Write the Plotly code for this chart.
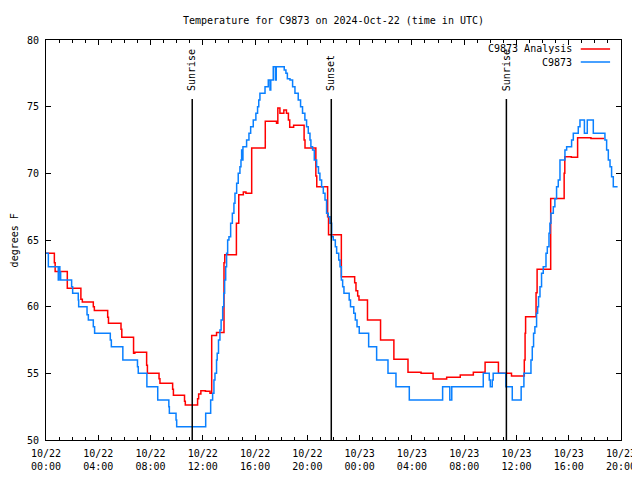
import plotly.graph_objects as go

# ---- data (hours since 2024-10-22 00:00 UTC, degrees F), step changes ----
analysis_hours = [0.0, 0.64, 0.7, 1.63, 2.67, 2.78, 3.62, 3.7, 4.72, 4.78, 5.74, 5.8,
                  6.7, 6.8, 7.7, 7.76, 8.65, 8.72, 9.69, 9.75, 10.6, 10.66, 11.6, 11.68,
                  11.85, 12.2, 12.55, 12.68, 13.05, 13.62, 13.68, 14.57, 14.75, 15.1, 15.3,
                  15.74, 16.78, 17.64, 17.74, 17.9, 18.2, 18.4, 18.55, 18.65, 18.95, 19.75,
                  19.82, 20.65, 20.72, 21.55, 21.62, 22.6, 23.62, 23.72, 23.85, 23.95, 24.6,
                  25.6, 26.62, 27.7, 28.7, 29.62, 30.66, 31.7, 32.7, 33.6, 34.62, 35.62,
                  36.6, 36.66, 36.7, 37.5, 37.58, 38.62, 39.65, 39.7, 40.2, 40.68, 41.7, 42.7]
analysis_temp = [64.0, 63.3, 62.63, 61.38, 60.55, 60.35, 60.0, 59.72, 59.2, 58.75, 58.3, 57.7,
                 56.5, 56.58, 55.6, 55.0, 54.6, 54.25, 53.8, 53.35, 52.9, 52.63, 53.1, 53.45,
                 53.7, 53.65, 53.5, 57.83, 58.07, 63.3, 63.9, 66.25, 68.4, 68.6, 68.5,
                 71.9, 73.9, 73.75, 74.9, 74.5, 74.75, 74.5, 74.0, 73.45, 73.6, 72.5,
                 71.9, 69.8, 69.0, 66.75, 65.4, 62.25, 61.8, 61.2, 60.8, 60.5, 59.0,
                 57.5, 56.05, 55.08, 55.0, 54.57, 54.7, 54.88, 55.08, 55.83, 55.0, 54.8,
                 56.0, 58.0, 59.25, 61.05, 62.8, 68.12, 70.0, 71.25, 71.2, 72.67, 72.62, 72.62]

obs_hours = [0.0, 0.18, 0.94, 1.0, 1.06, 1.12, 1.96, 2.04, 2.47, 2.5, 3.14, 3.24, 3.62, 3.72,
             4.92, 5.0, 5.88, 7.0, 7.06, 7.72, 8.55, 9.4, 9.44, 9.95, 10.0, 12.22, 12.6,
             12.75, 12.85, 12.93, 13.05, 13.1, 13.2, 13.31, 13.4, 13.52, 13.6, 13.67, 13.75,
             13.82, 13.9, 14.0, 14.13, 14.26, 14.38, 14.46, 14.59, 14.71, 14.84, 14.92,
             14.97, 15.02, 15.07, 15.22, 15.35, 15.53, 15.66, 15.86, 16.06, 16.19,
             16.28, 16.37, 16.76, 17.01, 17.14, 17.2, 17.39, 17.55, 17.62, 17.72,
             18.23, 18.36, 18.47, 18.67, 18.87, 19.05, 19.3, 19.48, 19.63, 19.81, 19.94,
             20.07, 20.2, 20.27, 20.4, 20.53, 20.71, 20.85, 20.96, 21.09, 21.22, 21.35,
             21.47, 21.6, 21.73, 21.86, 21.98, 22.14, 22.24, 22.4, 22.5, 22.6, 22.7, 22.8,
             23.2, 23.3, 23.55, 23.67, 23.8, 23.97, 24.69, 25.3, 26.17, 26.78, 27.8, 30.35,
             30.9, 31.05, 33.46, 33.92, 34.0, 34.15, 34.22, 35.19, 35.68, 36.36, 36.57,
             37.11, 37.21, 37.31, 37.41, 37.54, 37.62, 37.69, 37.8, 37.92, 38.05, 38.26,
             38.36, 38.49, 38.56, 38.64, 38.82, 38.94, 39.07, 39.2, 39.33, 39.71, 39.84,
             40.22, 40.35, 40.73, 40.86, 41.2, 41.42, 41.88, 42.77, 42.9, 43.03, 43.16,
             43.28, 43.41, 43.74]
obs_temp = [64, 63, 62, 63, 62.6, 62, 61.5, 61, 60.5, 60, 59.4, 59, 58.5, 58,
            57.5, 57, 56, 55.5, 55, 54, 53, 52.5, 52, 51.5, 51, 52, 53,
            53.5, 54.5, 55, 56, 56.5, 57.5, 58.25, 59, 60, 61, 62, 63,
            64, 65, 65.25, 66.25, 67, 67.75, 68.5, 69.25, 70, 70.5, 71,
            71.75, 71, 72, 72, 72.5, 73, 73.5, 74, 74.5, 75,
            75.5, 76, 76.5, 77, 76.25, 77, 78, 77, 78, 78,
            77.75, 77.5, 77.1, 77, 76.5, 76, 75.5, 75, 74.5, 74, 73.5,
            73, 72.5, 72, 71.75, 71, 70.5, 70, 69.5, 69, 68.5, 68,
            67, 66.75, 66.25, 65.25, 65, 64.5, 64, 63.5, 63, 62, 61.5, 61,
            60.5, 60, 59.5, 59, 58.5, 58, 57, 56, 55, 54, 53, 54,
            53, 54, 55, 54.5, 54, 54.5, 55, 54, 53, 54, 55,
            56, 57, 58, 58.5, 59.5, 60, 60.75, 61.5, 62.5, 63, 64,
            64.5, 65.5, 66.25, 67, 67.5, 68.1, 69, 69.5, 71, 71.75, 72,
            72.5, 73, 73.5, 74, 73, 74, 73, 72.5, 71.75, 71, 70.5,
            69.75, 69, 69]

sun_hours = [11.19, 21.83, 35.23]
sun_labels = ["Sunrise", "Sunset", "Sunrise"]

tick_hours = [0, 4, 8, 12, 16, 20, 24, 28, 32, 36, 40, 44]
tick_labels = ["10/22<br>00:00", "10/22<br>04:00", "10/22<br>08:00", "10/22<br>12:00",
               "10/22<br>16:00", "10/22<br>20:00", "10/23<br>00:00", "10/23<br>04:00",
               "10/23<br>08:00", "10/23<br>12:00", "10/23<br>16:00", "10/23<br>20:00"]
y_ticks = [50, 55, 60, 65, 70, 75, 80]

RED = "#ff0000"
BLUE = "#0a80ff"
FONT = "DejaVu Sans Mono"

fig = go.Figure()
fig.add_trace(go.Scatter(x=analysis_hours, y=analysis_temp, mode="lines", line_shape="hv",
                         line=dict(color=RED, width=1.5), name="C9873 Analysis"))
fig.add_trace(go.Scatter(x=obs_hours, y=obs_temp, mode="lines", line_shape="hv",
                         line=dict(color=BLUE, width=1.5), name="C9873"))

for h, lab in zip(sun_hours, sun_labels):
    fig.add_shape(type="line", xref="x", yref="paper", x0=h, x1=h, y0=0, y1=0.8525,
                  line=dict(color="black", width=1.5))
    fig.add_annotation(x=h, y=0.868, xref="x", yref="paper", text=lab, textangle=-90,
                       showarrow=False, xanchor="center", yanchor="bottom",
                       font=dict(family=FONT, size=10, color="black"))

# legend (gnuplot style: text then line sample)
for name, col, yp in [("C9873 Analysis", RED, 0.9775), ("C9873", BLUE, 0.945)]:
    fig.add_annotation(x=0.918, y=yp, xref="paper", yref="paper", text=name, showarrow=False,
                       xanchor="right", yanchor="middle",
                       font=dict(family=FONT, size=10, color="black"))
    fig.add_shape(type="line", xref="paper", yref="paper", x0=0.930, x1=0.981, y0=yp, y1=yp,
                  line=dict(color=col, width=1.5))

fig.add_annotation(x=-0.055, y=0.5, xref="paper", yref="paper", text="degrees F",
                   textangle=-90, showarrow=False, xanchor="center", yanchor="middle",
                   font=dict(family=FONT, size=10, color="black"))

# page body adds an 8px offset, so the figure is 632x472
fig.update_layout(
    width=632, height=472,
    margin=dict(l=38, r=19, t=32, b=40, autoexpand=False),
    paper_bgcolor="white", plot_bgcolor="white",
    showlegend=False,
    title=dict(text="Temperature for C9873 on 2024-Oct-22 (time in UTC)",
               x=0.5, xref="paper", xanchor="center", y=1 - 12 / 472, yanchor="middle",
               font=dict(family=FONT, size=10, color="black"), automargin=False),
    font=dict(family=FONT, size=10, color="black"),
)
fig.update_xaxes(range=[0, 44], tickmode="array", tickvals=tick_hours, ticktext=tick_labels,
                 showgrid=False, zeroline=False, showline=True, linecolor="black", linewidth=1,
                 mirror="allticks", ticks="inside", ticklen=5, tickcolor="black",
                 automargin=False, ticklabelstandoff=4,
                 minor=dict(tickmode="linear", tick0=0, dtick=1, ticks="inside", ticklen=3,
                            tickcolor="black", showgrid=False),
                 tickfont=dict(family=FONT, size=10, color="black"))
fig.update_yaxes(range=[50, 80], tickmode="array", tickvals=y_ticks,
                 showgrid=False, zeroline=False, showline=True, linecolor="black", linewidth=1,
                 mirror="allticks", ticks="inside", ticklen=5, tickcolor="black",
                 automargin=False, ticklabelstandoff=4,
                 tickfont=dict(family=FONT, size=10, color="black"))

fig.write_html("out.html")
